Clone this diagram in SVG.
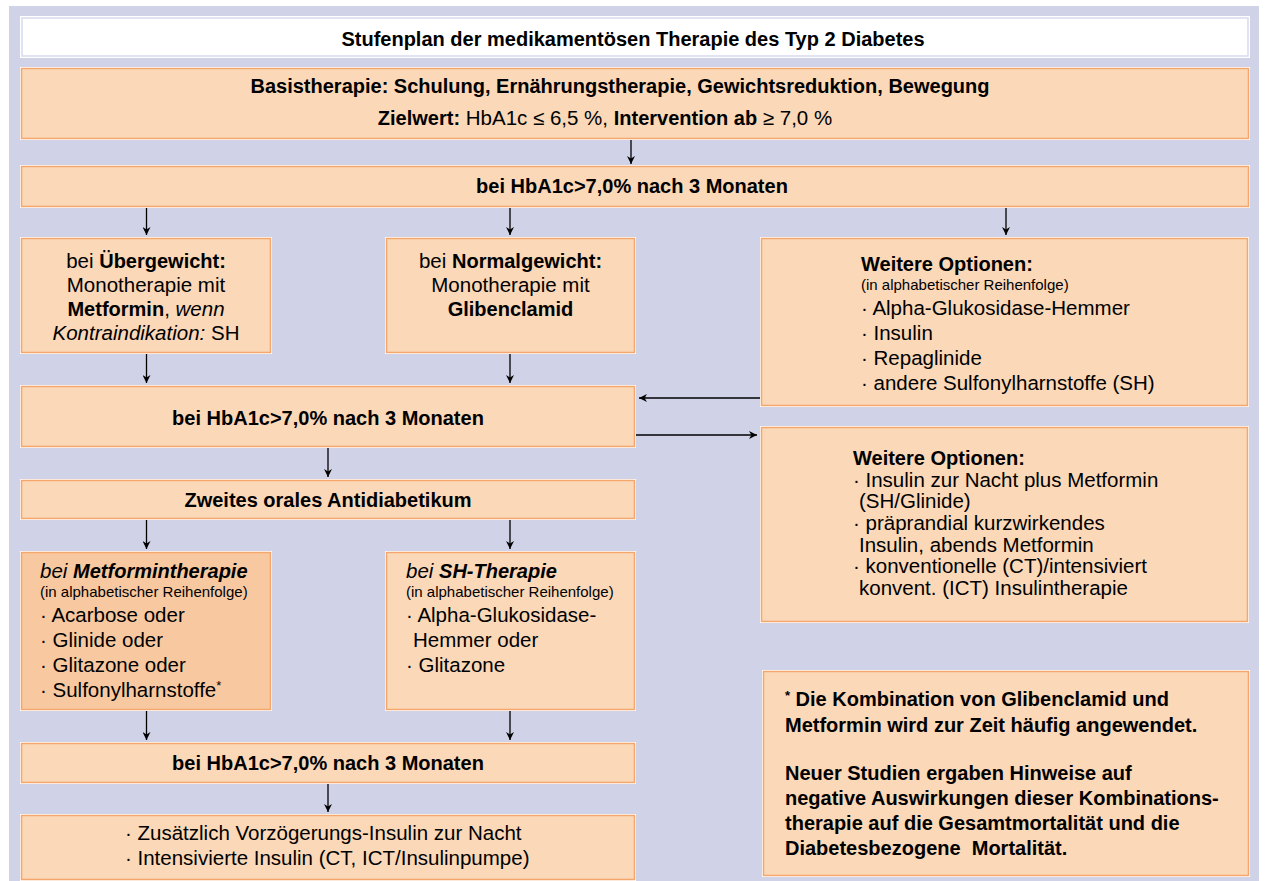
<svg xmlns="http://www.w3.org/2000/svg" width="1265" height="881" viewBox="0 0 1265 881">
<style>
  .bg{fill:#d0d2e7}
  .wh{fill:#ffffff}
  .bx{fill:#fad8b8;stroke:#f4a66c;stroke-width:1.5}
  .bxd{fill:#f8c9a0;stroke:#f4a66c;stroke-width:1.5}
  .tb{fill:#ffffff;stroke:#d9daee;stroke-width:1.5}
  text{font-family:"Liberation Sans",Arial,sans-serif;fill:#000;font-size:20.5px}
  .b{font-weight:bold;font-size:20px}
  .i{font-style:italic}
  .s{font-size:15px}
  .c{text-anchor:middle}
  .ln{stroke:#000;stroke-width:1.3;fill:none;marker-end:url(#ah)}
</style>
<defs>
  <marker id="ah" viewBox="0 0 10 10" refX="10" refY="5" markerWidth="10" markerHeight="8" markerUnits="userSpaceOnUse" orient="auto">
    <path d="M0,0 L10,5 L0,10 L3,5 z" fill="#000"/>
  </marker>
</defs>
<rect class="bg" x="9" y="6" width="1250" height="880"/>

<g id="title">
  <rect class="wh" x="20" y="16" width="1230" height="42"/>
  <rect class="tb" x="22" y="18" width="1226" height="38"/>
  <text class="b c" x="633" y="46">Stufenplan der medikamentösen Therapie des Typ 2 Diabetes</text>
</g>

<g id="basis">
  <rect class="wh" x="20" y="67" width="1230" height="73"/>
  <rect class="bx" x="21.5" y="68.5" width="1227" height="70"/>
  <text class="b c" x="620" y="93">Basistherapie: Schulung, Ernährungstherapie, Gewichtsreduktion, Bewegung</text>
  <text class="c" x="605" y="125"><tspan class="b">Zielwert:</tspan> HbA1c ≤ 6,5 %, <tspan class="b">Intervention ab</tspan> ≥ 7,0 %</text>
</g>

<g id="hba1">
  <rect class="wh" x="20" y="165" width="1230" height="43"/>
  <rect class="bx" x="21.5" y="166.5" width="1227" height="40"/>
  <text class="b c" x="632" y="193">bei HbA1c&gt;7,0% nach 3 Monaten</text>
</g>

<g id="uebergewicht">
  <rect class="wh" x="20" y="237" width="252" height="117"/>
  <rect class="bx" x="21.5" y="238.5" width="249" height="114"/>
  <text class="c" x="146" y="268">bei <tspan class="b">Übergewicht:</tspan></text>
  <text class="c" x="146" y="292">Monotherapie mit</text>
  <text class="c" x="146" y="316"><tspan class="b">Metformin</tspan>, <tspan class="i">wenn</tspan></text>
  <text class="c" x="146" y="340"><tspan class="i">Kontraindikation:</tspan> SH</text>
</g>

<g id="normalgewicht">
  <rect class="wh" x="385" y="237" width="251" height="117"/>
  <rect class="bx" x="386.5" y="238.5" width="248" height="114"/>
  <text class="c" x="510.5" y="268">bei <tspan class="b">Normalgewicht:</tspan></text>
  <text class="c" x="510.5" y="292">Monotherapie mit</text>
  <text class="c b" x="510.5" y="316">Glibenclamid</text>
</g>

<g id="weitere1">
  <rect class="wh" x="760" y="237" width="489" height="170"/>
  <rect class="bx" x="761.5" y="238.5" width="486" height="167"/>
  <text class="b" x="861" y="271">Weitere Optionen:</text>
  <text class="s" x="861" y="290">(in alphabetischer Reihenfolge)</text>
  <text x="861" y="315">· Alpha-Glukosidase-Hemmer</text>
  <text x="861" y="340">· Insulin</text>
  <text x="861" y="365">· Repaglinide</text>
  <text x="861" y="390">· andere Sulfonylharnstoffe (SH)</text>
</g>

<g id="hba2">
  <rect class="wh" x="20" y="385" width="616" height="63"/>
  <rect class="bx" x="21.5" y="386.5" width="613" height="60"/>
  <text class="b c" x="328" y="425">bei HbA1c&gt;7,0% nach 3 Monaten</text>
</g>

<g id="weitere2">
  <rect class="wh" x="760" y="426" width="489" height="197"/>
  <rect class="bx" x="761.5" y="427.5" width="486" height="194"/>
  <text class="b" x="853" y="465">Weitere Optionen:</text>
  <text x="853" y="487">· Insulin zur Nacht plus Metformin</text>
  <text x="859" y="508">(SH/Glinide)</text>
  <text x="853" y="530">· präprandial kurzwirkendes</text>
  <text x="859" y="552">Insulin, abends Metformin</text>
  <text x="853" y="573">· konventionelle (CT)/intensiviert</text>
  <text x="859" y="595">konvent. (ICT) Insulintherapie</text>
</g>

<g id="zweites">
  <rect class="wh" x="20" y="479" width="616" height="41"/>
  <rect class="bx" x="21.5" y="480.5" width="613" height="38"/>
  <text class="b c" x="328" y="507">Zweites orales Antidiabetikum</text>
</g>

<g id="metformin">
  <rect class="wh" x="20" y="551" width="252" height="160"/>
  <rect class="bxd" x="21.5" y="552.5" width="249" height="157"/>
  <text x="40" y="578"><tspan class="i">bei </tspan><tspan class="i b">Metformintherapie</tspan></text>
  <text class="s" x="40" y="597">(in alphabetischer Reihenfolge)</text>
  <text x="40" y="622">· Acarbose oder</text>
  <text x="40" y="647">· Glinide oder</text>
  <text x="40" y="672">· Glitazone oder</text>
  <text x="40" y="697">· Sulfonylharnstoffe<tspan font-size="13" dy="-7">*</tspan></text>
</g>

<g id="sh">
  <rect class="wh" x="385" y="551" width="251" height="160"/>
  <rect class="bx" x="386.5" y="552.5" width="248" height="157"/>
  <text x="406" y="578"><tspan class="i">bei </tspan><tspan class="i b">SH-Therapie</tspan></text>
  <text class="s" x="406" y="597">(in alphabetischer Reihenfolge)</text>
  <text x="406" y="622">· Alpha-Glukosidase-</text>
  <text x="413" y="647">Hemmer oder</text>
  <text x="406" y="672">· Glitazone</text>
</g>

<g id="hba3">
  <rect class="wh" x="20" y="742" width="616" height="42"/>
  <rect class="bx" x="21.5" y="743.5" width="613" height="39"/>
  <text class="b c" x="328" y="770">bei HbA1c&gt;7,0% nach 3 Monaten</text>
</g>

<g id="final">
  <rect class="wh" x="20" y="814" width="616" height="67"/>
  <rect class="bx" x="21.5" y="815.5" width="613" height="64"/>
  <text x="125" y="840">· Zusätzlich Vorzögerungs-Insulin zur Nacht</text>
  <text x="125" y="865">· Intensivierte Insulin (CT, ICT/Insulinpumpe)</text>
</g>

<g id="note">
  <rect class="wh" x="762" y="670" width="488" height="207"/>
  <rect class="bx" x="763.5" y="671.5" width="485" height="204"/>
  <text class="b" x="785" y="706"><tspan font-size="13" dy="-6">*</tspan><tspan dy="6"> Die Kombination von Glibenclamid und</tspan></text>
  <text class="b" x="785" y="732">Metformin wird zur Zeit häufig angewendet.</text>
  <text class="b" x="785" y="780">Neuer Studien ergaben Hinweise auf</text>
  <text class="b" x="785" y="805">negative Auswirkungen dieser Kombinations-</text>
  <text class="b" x="785" y="830">therapie auf die Gesamtmortalität und die</text>
  <text class="b" x="785" y="855" xml:space="preserve">Diabetesbezogene  Mortalität.</text>
</g>

<g id="connectors">
  <line class="ln" x1="631" y1="140" x2="631" y2="164"/>
  <line class="ln" x1="146.5" y1="208" x2="146.5" y2="235"/>
  <line class="ln" x1="510" y1="208" x2="510" y2="235"/>
  <line class="ln" x1="1006" y1="208" x2="1006" y2="235"/>
  <line class="ln" x1="146.5" y1="354" x2="146.5" y2="383"/>
  <line class="ln" x1="510" y1="354" x2="510" y2="383"/>
  <line class="ln" x1="760" y1="398" x2="639" y2="398"/>
  <line class="ln" x1="636" y1="435" x2="757" y2="435"/>
  <line class="ln" x1="328" y1="448" x2="328" y2="477"/>
  <line class="ln" x1="146.5" y1="520" x2="146.5" y2="549"/>
  <line class="ln" x1="510" y1="520" x2="510" y2="549"/>
  <line class="ln" x1="146.5" y1="711" x2="146.5" y2="740"/>
  <line class="ln" x1="510" y1="711" x2="510" y2="740"/>
  <line class="ln" x1="328" y1="784" x2="328" y2="812"/>
</g>
</svg>
